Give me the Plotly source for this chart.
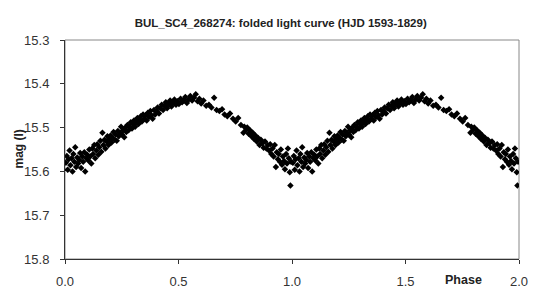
import plotly.graph_objects as go

title_text = "BUL_SC4_268274: folded light curve (HJD 1593-1829)"
y_label = "mag (I)"
x_label = "Phase"

# one cycle of the folded light curve (phase 0-1); drawn twice (phase and phase+1)
phase = [
    0.004, 0.008, 0.012, 0.016, 0.020, 0.024, 0.029, 0.033, 0.037, 0.041, 0.045, 0.049,
    0.054, 0.058, 0.063, 0.067, 0.071, 0.076, 0.080, 0.085, 0.089, 0.094, 0.098,
    0.103, 0.107, 0.111, 0.116, 0.120, 0.124, 0.129, 0.133, 0.138, 0.142, 0.147, 0.151,
    0.156, 0.160, 0.165, 0.169, 0.174, 0.178, 0.183, 0.187, 0.192, 0.196,
    0.201, 0.205, 0.210, 0.214, 0.219, 0.223, 0.228, 0.233, 0.237, 0.242, 0.247, 0.251,
    0.256, 0.261, 0.266, 0.270, 0.275, 0.280, 0.285, 0.290, 0.295, 0.299,
    0.304, 0.309, 0.314, 0.319, 0.324, 0.329, 0.334, 0.339, 0.344, 0.349, 0.355, 0.360,
    0.365, 0.370, 0.376, 0.381, 0.386, 0.392, 0.397,
    0.403, 0.408, 0.414, 0.420, 0.426, 0.432, 0.438, 0.444, 0.450, 0.456, 0.463, 0.469,
    0.476, 0.482, 0.489, 0.495,
    0.502, 0.509, 0.516, 0.523, 0.530, 0.537, 0.545, 0.552, 0.560, 0.568, 0.576, 0.584,
    0.592, 0.600,
    0.610, 0.622, 0.634, 0.645, 0.657, 0.668, 0.680, 0.692, 0.703, 0.715, 0.727, 0.740,
    0.752, 0.763, 0.775, 0.786, 0.790,
    0.797, 0.803, 0.809, 0.815, 0.821, 0.827, 0.833, 0.839, 0.845, 0.851, 0.857, 0.863,
    0.869, 0.875, 0.881, 0.887, 0.893,
    0.899, 0.904, 0.909, 0.914, 0.919, 0.924, 0.929, 0.933, 0.938, 0.942, 0.947, 0.951,
    0.956, 0.960, 0.965, 0.969, 0.974, 0.978, 0.982, 0.986, 0.990, 0.993, 0.996,
]
mag = [
    15.580, 15.565, 15.596, 15.572, 15.552, 15.586, 15.570, 15.600, 15.560, 15.578, 15.545, 15.590,
    15.568, 15.582, 15.574, 15.558, 15.592, 15.566, 15.578, 15.556, 15.600, 15.570, 15.562,
    15.575, 15.550, 15.566, 15.582, 15.548, 15.560, 15.540, 15.570, 15.552, 15.538, 15.562, 15.545,
    15.530, 15.555, 15.512, 15.540, 15.528, 15.548, 15.532, 15.520, 15.540, 15.526,
    15.518, 15.534, 15.524, 15.510, 15.528, 15.516, 15.530, 15.508, 15.520, 15.512, 15.498, 15.516,
    15.506, 15.522, 15.500, 15.510, 15.494, 15.506, 15.498, 15.488, 15.502, 15.492,
    15.484, 15.498, 15.488, 15.478, 15.492, 15.482, 15.474, 15.486, 15.470, 15.480, 15.472, 15.484,
    15.466, 15.476, 15.462, 15.472, 15.480, 15.460, 15.470,
    15.462, 15.454, 15.468, 15.456, 15.448, 15.460, 15.450, 15.442, 15.456, 15.446, 15.438, 15.452,
    15.444, 15.436, 15.448, 15.440,
    15.446, 15.434, 15.442, 15.438, 15.430, 15.444, 15.436, 15.428, 15.438, 15.432, 15.424, 15.440,
    15.434, 15.445,
    15.438, 15.450, 15.448, 15.454, 15.432, 15.460, 15.462, 15.458, 15.470, 15.474, 15.468, 15.480,
    15.486, 15.478, 15.494, 15.512, 15.498,
    15.506, 15.500, 15.514, 15.506, 15.520, 15.512, 15.526, 15.518, 15.532, 15.524, 15.540, 15.528,
    15.536, 15.546, 15.532, 15.548, 15.540,
    15.552, 15.538, 15.560, 15.548, 15.566, 15.540, 15.590, 15.556, 15.572, 15.560, 15.578, 15.550,
    15.585, 15.566, 15.576, 15.595, 15.560, 15.582, 15.548, 15.570, 15.602, 15.632, 15.578,
]

x_ticks = [0.0, 0.5, 1.0, 1.5, 2.0]
y_ticks = [15.3, 15.4, 15.5, 15.6, 15.7, 15.8]

xs = phase + [p + 1 for p in phase]
ys = mag + mag

fig = go.Figure()
fig.add_trace(go.Scatter(
    x=xs, y=ys, mode="markers",
    marker=dict(symbol="diamond", size=5, color="black", line=dict(width=0)),
    showlegend=False, cliponaxis=True,
))

font_family = "Liberation Sans, Arial, sans-serif"

fig.update_layout(
    width=540, height=293,
    margin=dict(l=57, r=29, t=32, b=32),
    paper_bgcolor="white", plot_bgcolor="white",
    title=dict(text=f"<b>{title_text}</b>", x=0.505, xref="container", xanchor="center",
               y=0.95, yref="container", yanchor="middle",
               font=dict(family=font_family, size=11.5, color="#222")),
    font=dict(family=font_family, color="#333"),
    shapes=[dict(type="rect", xref="paper", yref="paper", x0=0, y0=0, x1=1, y1=1,
                 line=dict(color="#888", width=1), layer="below")],
    annotations=[
        dict(text=f"<b>{x_label}</b>", xref="paper", yref="paper", x=0.878, y=0,
             yshift=-21, xanchor="center", yanchor="middle", showarrow=False,
             font=dict(family=font_family, size=12.5, color="#222")),
        dict(text=f"<b>{y_label}</b>", xref="paper", yref="paper", x=0, y=0.5,
             xshift=-47, xanchor="center", yanchor="middle", textangle=-90, showarrow=False,
             font=dict(family=font_family, size=12, color="#222")),
    ],
)
fig.update_xaxes(range=[0, 2], tickvals=x_ticks, ticktext=[f"{v:.1f}" for v in x_ticks],
                 showgrid=False, zeroline=False, showline=True, linecolor="#333", linewidth=1,
                 ticks="outside", ticklen=4, tickcolor="#333", ticklabelstandoff=6,
                 tickfont=dict(size=13, color="#333"))
fig.update_yaxes(range=[15.8, 15.3], tickvals=y_ticks, ticktext=[f"{v:.1f}" for v in y_ticks],
                 showgrid=False, zeroline=False, showline=True, linecolor="#333", linewidth=1,
                 ticks="outside", ticklen=4, tickcolor="#333", ticklabelstandoff=8,
                 tickfont=dict(size=13, color="#333"))

fig.write_html("out.html")
